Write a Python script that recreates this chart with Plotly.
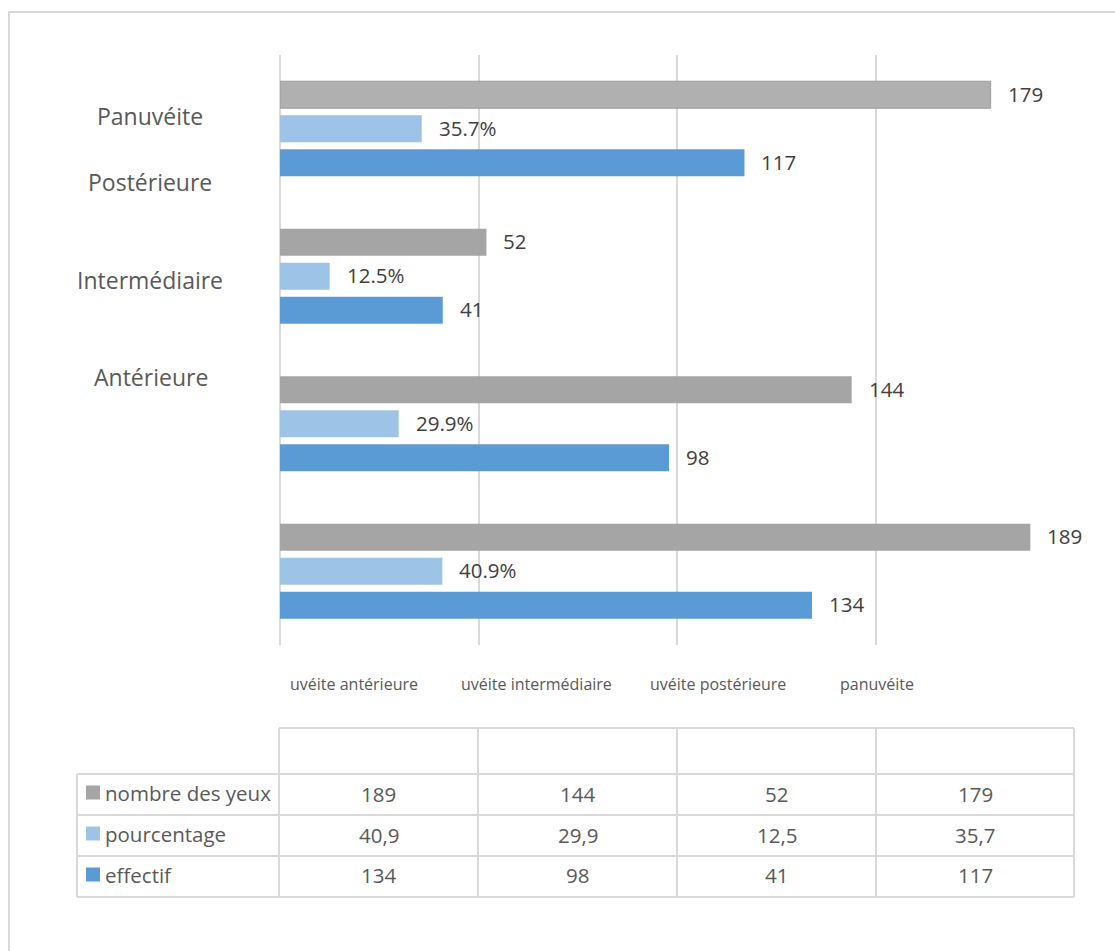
import plotly.graph_objects as go

# Data
categories = ["uvéite antérieure", "uvéite intermédiaire", "uvéite postérieure", "panuvéite"]
effectif = [134, 98, 41, 117]
pourcentage = [40.9, 29.9, 12.5, 35.7]
nombre_des_yeux = [189, 144, 52, 179]
side_labels = ["Panuvéite", "Postérieure", "Intermédiaire", "Antérieure"]
table_values = {
    "nombre des yeux": ["189", "144", "52", "179"],
    "pourcentage": ["40,9", "29,9", "12,5", "35,7"],
    "effectif": ["134", "98", "41", "117"],
}

# Page geometry (pixels)
W, H = 1115, 951
L, R, T, B = 280, 1074, 55, 645

FONT = "Open Sans"
TXT = "#595959"
GRID = "#D9D9D9"
colors = {"effectif": "#5B9BD5", "pourcentage": "#9DC3E6", "nombre des yeux": "#A5A5A5"}


def px(x):
    return (x - L) / (R - L)


def py(y):
    return (B - y) / (B - T)


fig = go.Figure()
series = [("effectif", effectif), ("pourcentage", pourcentage), ("nombre des yeux", nombre_des_yeux)]
for name, vals in series:
    if name == "nombre des yeux":
        # the panuvéite point is shown highlighted (lighter fill, darker edge)
        fill = [colors[name]] * 3 + ["#B0B0B0"]
        edge = dict(color=["rgba(0,0,0,0)"] * 3 + ["#9C9C9C"], width=[0, 0, 0, 1])
    else:
        fill = colors[name]
        edge = dict(width=0)
    fig.add_trace(go.Bar(
        y=categories, x=vals, orientation="h", name=name,
        marker=dict(color=fill, line=edge),
        showlegend=False, hoverinfo="x+name",
    ))

annotations = []
shapes = []

# value labels beside each bar
offsets = {"effectif": -34, "pourcentage": 0, "nombre des yeux": 34}
for name, vals in series:
    for cat, v in zip(categories, vals):
        label = f"{v:.1f}%" if name == "pourcentage" else f"{v}"
        annotations.append(dict(
            x=v, y=cat, xref="x", yref="y", text=label, showarrow=False,
            xanchor="left", yanchor="middle", xshift=15, yshift=offsets[name] + 1,
            font=dict(family=FONT, size=20.5, color="#404040"),
        ))

# labels on the left side
side_pos = [(150, 116), (150, 182), (150, 280), (151, 377)]
for text, (x, y) in zip(side_labels, side_pos):
    annotations.append(dict(
        x=px(x), y=py(y), xref="paper", yref="paper", text=text, showarrow=False,
        xanchor="center", yanchor="middle",
        font=dict(family=FONT, size=23, color=TXT),
    ))

# category names under the plot
cat_pos = [354, 536, 718, 877]
for text, x in zip(categories, cat_pos):
    annotations.append(dict(
        x=px(x), y=py(684), xref="paper", yref="paper", text=text, showarrow=False,
        xanchor="center", yanchor="middle",
        font=dict(family=FONT, size=16, color=TXT),
    ))

# data table
col_x = [77, 279, 478, 677, 876, 1074]
row_y = [728, 774, 815, 856, 897]


def hline(x0, x1, y):
    shapes.append(dict(type="line", xref="paper", yref="paper",
                       x0=px(x0), x1=px(x1), y0=py(y), y1=py(y),
                       line=dict(color=GRID, width=2)))


def vline(x, y0, y1):
    shapes.append(dict(type="line", xref="paper", yref="paper",
                       x0=px(x), x1=px(x), y0=py(y0), y1=py(y1),
                       line=dict(color=GRID, width=2)))


hline(col_x[1], col_x[-1], row_y[0])
for y in row_y[1:]:
    hline(col_x[0], col_x[-1], y)
vline(col_x[0], row_y[1], row_y[-1])
for x in col_x[1:]:
    vline(x, row_y[0], row_y[-1])

row_names = ["nombre des yeux", "pourcentage", "effectif"]
for i, name in enumerate(row_names):
    yc = (row_y[i + 1] + row_y[i + 2]) / 2
    shapes.append(dict(type="rect", xref="paper", yref="paper",
                       x0=px(86), x1=px(100), y0=py(yc - 9), y1=py(yc + 5),
                       fillcolor=colors[name], line=dict(width=0)))
    annotations.append(dict(
        x=px(103), y=py(yc - 2), xref="paper", yref="paper", text=name, showarrow=False,
        xanchor="left", yanchor="middle",
        font=dict(family=FONT, size=20.5, color=TXT),
    ))
    for j, val in enumerate(table_values[name]):
        annotations.append(dict(
            x=px((col_x[j + 1] + col_x[j + 2]) / 2), y=py(yc - 1), xref="paper", yref="paper",
            text=val, showarrow=False, xanchor="center", yanchor="middle",
            font=dict(family=FONT, size=20.5, color=TXT),
        ))

# outer chart border
shapes.append(dict(type="rect", xref="paper", yref="paper",
                   x0=px(9), x1=px(1140), y0=py(12), y1=py(980),
                   line=dict(color=GRID, width=2), fillcolor="rgba(0,0,0,0)", layer="below"))

fig.update_layout(
    width=W, height=H,
    margin=dict(l=L, r=W - R, t=T, b=H - B),
    paper_bgcolor="white", plot_bgcolor="white",
    barmode="group", bargap=0.308, bargroupgap=0.206,
    xaxis=dict(range=[0, 200], dtick=50, showgrid=True, gridcolor=GRID, gridwidth=2,
               zeroline=True, zerolinecolor=GRID, zerolinewidth=2,
               showticklabels=False, ticks="", showline=False, fixedrange=True),
    yaxis=dict(categoryorder="array", categoryarray=categories, showticklabels=False,
               showgrid=False, zeroline=False, ticks="", fixedrange=True),
    annotations=annotations, shapes=shapes,
    font=dict(family=FONT, color=TXT),
)

fig.write_html("out.html")
